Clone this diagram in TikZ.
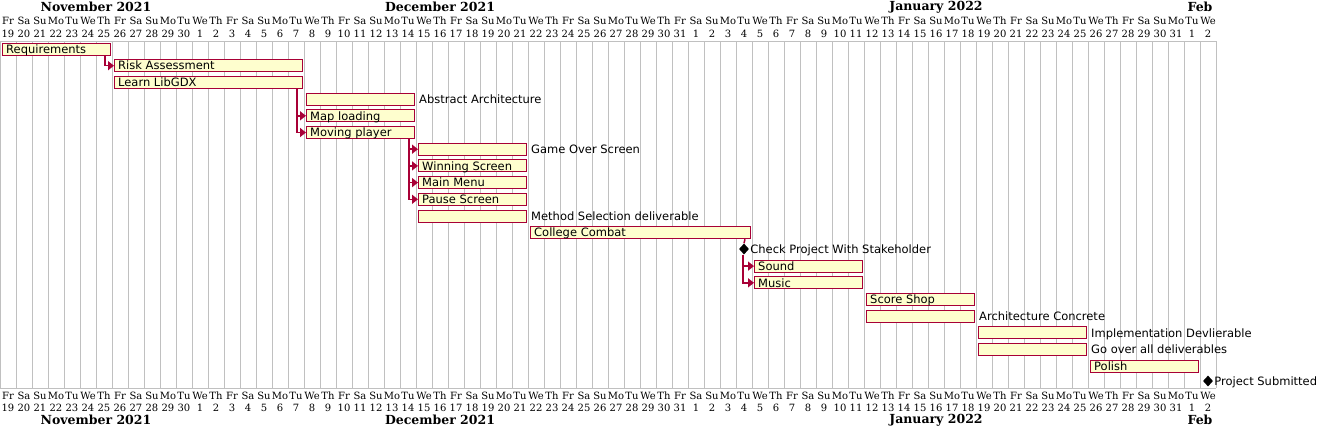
\documentclass[tikz,border=0pt]{standalone}
\usepackage{fontspec}
\setmainfont{DejaVu Sans}
\newfontfamily\calfont{DejaVu Serif}
\usetikzlibrary{arrows.meta,shapes.geometric}

\definecolor{ganttred}{HTML}{A80036}
\definecolor{ganttfill}{HTML}{FEFECE}
\definecolor{gridgray}{HTML}{C0C0C0}

\tikzset{
    gridline/.style={draw=gridgray, line width=0.8pt},
    taskbox/.style={rectangle, draw=ganttred, fill=ganttfill, line width=1pt,
        anchor=west, minimum height=12pt, inner sep=0pt},
    tasklabel/.style={anchor=west, inner sep=0pt, text height=10pt, text depth=1.6pt,
        font=\fontsize{11.5}{13}\selectfont},
    daytext/.style={inner sep=0pt, font=\calfont\fontsize{10}{12}\selectfont},
    monthtext/.style={inner sep=0pt, font=\calfont\bfseries\fontsize{12.5}{15}\selectfont},
    milestone/.style={diamond, fill=black, inner sep=0pt, minimum width=10pt, minimum height=11pt},
    dep/.style={draw=ganttred, line width=1.5pt, -{Triangle[width=9pt,length=6pt]}}
}

\begin{document}
\begin{tikzpicture}[x=1pt, y=-1pt]
            \useasboundingbox (0,0) rectangle (1318,426);

            % calendar grid
            \foreach \i in {0,...,76}{
                \draw[gridline] (16*\i,41) -- (16*\i,388);
            }
            \draw[gridline] (0,41) -- (1216,41);
            \draw[gridline] (0,388) -- (1216,388);

            \foreach \i in {0,...,75}{
                \pgfmathtruncatemacro{\dnum}{\i<12 ? \i+19 : (\i<43 ? \i-11 : (\i<74 ? \i-42 : \i-73))}
                \pgfmathsetmacro{\wname}{{"Fr","Sa","Su","Mo","Tu","We","Th"}[mod(\i,7)]}

                \node[daytext] (wt\i) at (16*\i+8,21) {\wname};
                \node[daytext] (dt\i) at (16*\i+8,34) {\dnum};
                \node[daytext] (wb\i) at (16*\i+8,396) {\wname};
                \node[daytext] (db\i) at (16*\i+8,408) {\dnum};
            }

            \foreach \m/\c [count=\k] in {November 2021/96, December 2021/440, January 2022/936, Feb/1200}{
                \node[monthtext] (mt\k) at (\c,7) {\m};
                \node[monthtext] (mb\k) at (\c,420) {\m};
            }

            % tasks: row/start/length/label/inside
            \foreach \r/\s/\n/\lab/\inner in {%
                0/0/7/Requirements/1,
                1/7/12/Risk Assessment/1,
                2/7/12/Learn LibGDX/1,
                3/19/7/Abstract Architecture/0,
                4/19/7/Map loading/1,
                5/19/7/Moving player/1,
                6/26/7/Game Over Screen/0,
                7/26/7/Winning Screen/1,
                8/26/7/Main Menu/1,
                9/26/7/Pause Screen/1,
                10/26/7/Method Selection deliverable/0,
                11/33/14/College Combat/1,
                13/47/7/Sound/1,
                14/47/7/Music/1,
                15/54/7/Score Shop/1,
                16/54/7/Architecture Concrete/0,
                17/61/7/Implementation Devlierable/0,
                18/61/7/Go over all deliverables/0,
                19/68/7/Polish/1%
                }{
                \node[taskbox, minimum width=16*\n-4] (task\r) at (16*\s+2,{49+16.7*\r}) {};
                \ifnum\inner=1
                    \node[tasklabel] (lab\r) at ([xshift=4pt]task\r.west) {\lab};
                \else
                    \node[tasklabel] (lab\r) at ([xshift=4pt]task\r.east) {\lab};
                \fi
            }

            \node[milestone] (ms12) at (744,249) {};
            \node[tasklabel] (lab12) at ([xshift=1pt]ms12.east) {Check Project With Stakeholder};
            \node[milestone] (ms20) at (1208,381) {};
            \node[tasklabel] (lab20) at ([xshift=1pt]ms20.east) {Project Submitted};

            % dependencies
            \draw[dep] ([xshift=-6pt]task0.south east) |- (task1.west);
            \foreach \v in {4,5}{
                \draw[dep] ([xshift=-6pt]task2.south east) |- (task\v.west);
            }
            \foreach \v in {6,...,9}{
                \draw[dep] ([xshift=-6pt]task5.south east) |- (task\v.west);
            }
            \draw[draw=ganttred, line width=1.5pt] ([xshift=-6pt]task11.south east) -- (ms12.north);
            \foreach \v in {13,14}{
                \draw[dep] ([xshift=-1pt]ms12.south) |- (task\v.west);
            }
\end{tikzpicture}
\end{document}
